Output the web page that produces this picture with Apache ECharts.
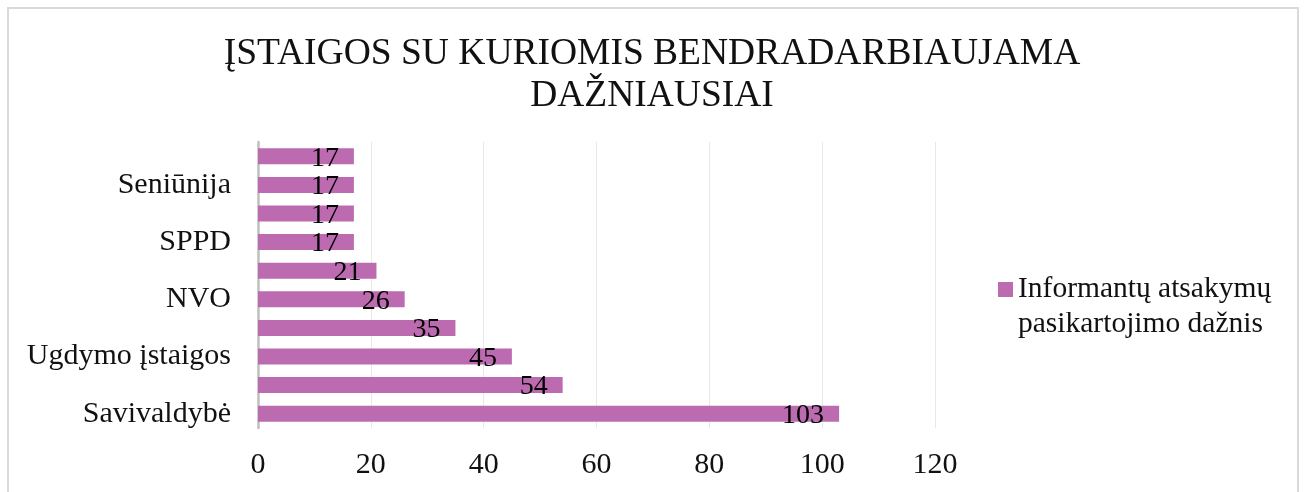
<!DOCTYPE html>
<html>
<head>
<meta charset="utf-8">
<script src="https://cdn.jsdelivr.net/npm/echarts@6/dist/echarts.min.js"></script>
<style>
  html, body { margin: 0; padding: 0; background: #fff; }
  #chart { width: 1304px; height: 492px; }
</style>
</head>
<body>
<div id="chart"></div>
<script>
// kategorijos iš apačios į viršų (kas antra etiketė nerodoma)
var categories = ['Savivaldybė', 'Kategorija 2', 'Ugdymo įstaigos', 'Kategorija 4', 'NVO',
                  'Kategorija 6', 'SPPD', 'Kategorija 8', 'Seniūnija', 'Kategorija 10'];
var values = [103, 54, 45, 35, 26, 21, 17, 17, 17, 17];
var seriesName = 'Informantų atsakymų\npasikartojimo dažnis';
var titleText = 'ĮSTAIGOS SU KURIOMIS BENDRADARBIAUJAMA\nDAŽNIAUSIAI';

var chart = echarts.init(document.getElementById('chart'));
var font = '"Liberation Serif", "Times New Roman", serif';

chart.setOption({
    animation: false,
    textStyle: { fontFamily: font },
    graphic: [{
        type: 'rect',
        shape: { x: 8, y: 8, width: 1290, height: 500 },
        style: { fill: 'none', stroke: '#d9d9d9', lineWidth: 2 },
        silent: true
    }],
    title: {
        text: titleText,
        left: 'center',
        top: 28,
        textStyle: {
            fontFamily: font,
            fontSize: 37.5,
            fontWeight: 'normal',
            color: '#111',
            lineHeight: 42
        }
    },
    legend: {
        orient: 'vertical',
        left: 998,
        top: 237,
        padding: 0,
        itemWidth: 15,
        itemHeight: 15,
        itemGap: 4,
        icon: 'rect',
        // tuščia eilutė viršuje, kad žymeklis būtų ties pirmąja eilute
        formatter: function (name) { return ' \n' + name; },
        textStyle: { fontFamily: font, fontSize: 29.5, color: '#111', lineHeight: 35 },
        data: [seriesName]
    },
    grid: { left: 258, right: 369, top: 142, bottom: 64, containLabel: false },
    xAxis: {
        type: 'value',
        min: 0,
        max: 120,
        interval: 20,
        axisLine: { show: false },
        axisTick: { show: false },
        splitLine: { show: true, lineStyle: { color: '#e8e8e8', width: 1 } },
        axisLabel: { fontFamily: font, fontSize: 30, color: '#111', margin: 22 }
    },
    yAxis: {
        type: 'category',
        data: categories,
        axisLine: { show: true, lineStyle: { color: '#bfbfbf', width: 2.5 } },
        axisTick: { show: false },
        axisLabel: { interval: 1, fontFamily: font, fontSize: 30, color: '#111', margin: 27 }
    },
    series: [{
        name: seriesName,
        type: 'bar',
        data: values,
        barWidth: 16,
        itemStyle: { color: '#bd6bb1' },
        label: {
            show: true,
            position: 'insideRight',
            distance: 15,
            offset: [0, 2],
            fontFamily: font,
            fontSize: 28,
            color: '#000'
        }
    }]
});
</script>
</body>
</html>
